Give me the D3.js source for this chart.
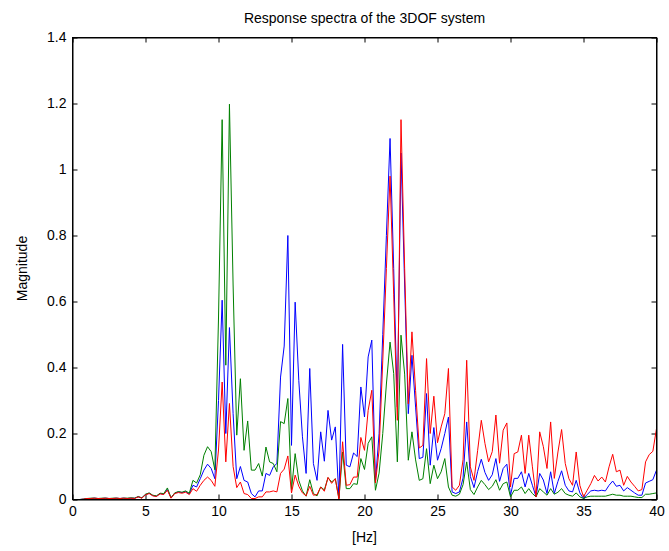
<!DOCTYPE html>
<html>
<head>
<meta charset="utf-8">
<script src="https://cdn.jsdelivr.net/npm/d3@7"></script>
<style>
  body { margin: 0; background: #fff; }
  text { font-family: "Liberation Sans", Arial, Helvetica, sans-serif; }
</style>
</head>
<body>
<div id="chart"></div>
<script>
// frequency step of the spectra (Hz), samples start at 0 Hz
const df = 0.25;

// magnitude of each degree of freedom, one value per frequency sample (0 .. 40 Hz)
const blueMag = [
  0, 0, 0, 0.001, 0.003, 0.003, 0.004, 0.003, 0.003, 0.004, 0.003, 0.003, 0.004, 0.003, 0.004, 0.003,
  0.004, 0.004, 0.008, 0.005, 0.015, 0.019, 0.012, 0.010, 0.018, 0.016, 0.030, 0.005, 0.019, 0.023, 0.021, 0.024,
  0.017, 0.043, 0.038, 0.063, 0.089, 0.107, 0.094, 0.063, 0.300, 0.604, 0.200, 0.521, 0.260, 0.063, 0.100, 0.058,
  0.053, 0.018, 0.008, 0.026, 0.026, 0.079, 0.073, 0.099, 0.109, 0.371, 0.465, 0.800, 0.164, 0.598, 0.360, 0.190,
  0.079, 0.397, 0.109, 0.058, 0.205, 0.116, 0.270, 0.180, 0.220, 0.005, 0.470, 0.104, 0.099, 0.141, 0.130, 0.341,
  0.250, 0.432, 0.483, 0.055, 0.200, 0.500, 0.800, 1.094, 0.700, 0.280, 1.050, 0.650, 0.260, 0.437, 0.280, 0.124,
  0.128, 0.321, 0.104, 0.218, 0.119, 0.154, 0.200, 0.250, 0.023, 0.018, 0.023, 0.065, 0.235, 0.070, 0.036, 0.085,
  0.122, 0.082, 0.058, 0.075, 0.124, 0.055, 0.094, 0.107, 0.013, 0.064, 0.064, 0.084, 0.038, 0.079, 0.043, 0.008,
  0.079, 0.059, 0.018, 0.084, 0.018, 0.055, 0.087, 0.043, 0.026, 0.023, 0.058, 0.020, 0.003, 0.015, 0.026, 0.028,
  0.026, 0.028, 0.026, 0.043, 0.056, 0.040, 0.043, 0.026, 0.036, 0.028, 0.020, 0.013, 0.013, 0.050, 0.055, 0.060,
  0.089
];
const greenMag = [
  0, 0, 0, 0.001, 0.003, 0.004, 0.004, 0.003, 0.004, 0.004, 0.003, 0.004, 0.004, 0.003, 0.004, 0.004,
  0.005, 0.004, 0.009, 0.005, 0.016, 0.020, 0.013, 0.011, 0.019, 0.018, 0.035, 0.005, 0.020, 0.024, 0.022, 0.026,
  0.019, 0.058, 0.050, 0.075, 0.134, 0.160, 0.145, 0.090, 0.550, 1.151, 0.407, 1.198, 0.650, 0.195, 0.366, 0.149,
  0.238, 0.089, 0.089, 0.109, 0.071, 0.159, 0.114, 0.109, 0.084, 0.236, 0.230, 0.306, 0.030, 0.139, 0.058, 0.026,
  0.010, 0.060, 0.018, 0.011, 0.038, 0.029, 0.066, 0.053, 0.063, 0.003, 0.144, 0.033, 0.033, 0.048, 0.046, 0.124,
  0.091, 0.170, 0.190, 0.028, 0.080, 0.200, 0.350, 0.477, 0.382, 0.114, 0.498, 0.380, 0.119, 0.205, 0.120, 0.058,
  0.063, 0.154, 0.048, 0.104, 0.063, 0.084, 0.124, 0.038, 0.013, 0.010, 0.016, 0.045, 0.114, 0.030, 0.015, 0.038,
  0.058, 0.045, 0.030, 0.040, 0.060, 0.028, 0.048, 0.053, 0.008, 0.028, 0.028, 0.038, 0.018, 0.033, 0.018, 0.008,
  0.033, 0.023, 0.013, 0.033, 0.016, 0.022, 0.033, 0.018, 0.013, 0.010, 0.020, 0.008, 0.003, 0.008, 0.010, 0.010,
  0.010, 0.010, 0.010, 0.013, 0.016, 0.013, 0.013, 0.010, 0.010, 0.010, 0.008, 0.006, 0.006, 0.016, 0.016, 0.018,
  0.020
];
const redMag = [
  0, 0, 0, 0.001, 0.003, 0.003, 0.004, 0.003, 0.003, 0.004, 0.003, 0.003, 0.004, 0.003, 0.004, 0.003,
  0.004, 0.003, 0.008, 0.004, 0.014, 0.018, 0.011, 0.009, 0.017, 0.015, 0.028, 0.004, 0.018, 0.021, 0.019, 0.022,
  0.015, 0.033, 0.025, 0.043, 0.058, 0.068, 0.058, 0.040, 0.150, 0.356, 0.114, 0.291, 0.100, 0.036, 0.053, 0.018,
  0.015, 0.003, 0.003, 0.008, 0.008, 0.023, 0.023, 0.026, 0.023, 0.079, 0.092, 0.132, 0.020, 0.074, 0.040, 0.020,
  0.011, 0.040, 0.013, 0.015, 0.038, 0.025, 0.067, 0.049, 0.063, 0.000, 0.175, 0.043, 0.045, 0.068, 0.068, 0.188,
  0.149, 0.270, 0.331, 0.050, 0.150, 0.420, 0.700, 0.980, 0.620, 0.240, 1.151, 0.700, 0.290, 0.508, 0.330, 0.156,
  0.164, 0.427, 0.200, 0.313, 0.172, 0.220, 0.260, 0.397, 0.038, 0.028, 0.043, 0.120, 0.422, 0.099, 0.058, 0.149,
  0.240, 0.170, 0.114, 0.145, 0.256, 0.110, 0.210, 0.232, 0.038, 0.139, 0.144, 0.195, 0.079, 0.195, 0.099, 0.008,
  0.205, 0.160, 0.094, 0.235, 0.064, 0.144, 0.212, 0.109, 0.063, 0.043, 0.144, 0.043, 0.008, 0.028, 0.048, 0.073,
  0.056, 0.068, 0.053, 0.099, 0.137, 0.084, 0.089, 0.043, 0.070, 0.053, 0.040, 0.026, 0.030, 0.114, 0.136, 0.146,
  0.215
];

const xTicks = [0, 5, 10, 15, 20, 25, 30, 35, 40];
const yTicks = [0, 0.2, 0.4, 0.6, 0.8, 1, 1.2, 1.4];

const W = 669, H = 551;
const plotLeft = 72.5, plotRight = 656.5, plotTop = 37.5, plotBottom = 499.5;

const svg = d3.select("#chart")
  .append("svg")
    .attr("width", W)
    .attr("height", H);

const x = d3.scaleLinear().domain([0, 40]).range([plotLeft, plotRight]);
const y = d3.scaleLinear().domain([0, 1.4]).range([plotBottom, plotTop]);

// axes, MATLAB style: ticks pointing inward on all four sides
const fmt = d3.format("~g");

svg.append("g")
  .attr("transform", `translate(0,${plotBottom})`)
  .call(d3.axisBottom(x).tickValues(xTicks).tickSizeInner(-5).tickSizeOuter(0).tickPadding(7).tickFormat(fmt));

svg.append("g")
  .attr("transform", `translate(0,${plotTop})`)
  .call(d3.axisTop(x).tickValues(xTicks).tickSizeInner(-5).tickSizeOuter(0).tickFormat(""));

svg.append("g")
  .attr("transform", `translate(${plotLeft},0)`)
  .call(d3.axisLeft(y).tickValues(yTicks).tickSizeInner(-5).tickSizeOuter(0).tickPadding(6).tickFormat(fmt));

svg.append("g")
  .attr("transform", `translate(${plotRight},0)`)
  .call(d3.axisRight(y).tickValues(yTicks).tickSizeInner(-5).tickSizeOuter(0).tickFormat(""));

svg.selectAll(".tick text")
  .attr("font-size", 14)
  .attr("font-family", "'Liberation Sans', Arial, sans-serif")
  .attr("fill", "#000");
svg.selectAll(".tick line").attr("stroke", "#000");
svg.selectAll(".domain").attr("stroke", "#000");

// the three spectra
const series = [
  {name: "dof1", color: "#0000ff", values: blueMag},
  {name: "dof2", color: "#008000", values: greenMag},
  {name: "dof3", color: "#ff0000", values: redMag}
];

const line = d3.line()
  .x((d, i) => x(i * df))
  .y(d => y(d));

svg.append("g")
  .selectAll("path")
  .data(series)
  .join("path")
    .attr("fill", "none")
    .attr("stroke", d => d.color)
    .attr("stroke-width", 1)
    .attr("stroke-linejoin", "miter")
    .attr("d", d => line(d.values));

// frame
svg.append("rect")
  .attr("x", plotLeft).attr("y", plotTop)
  .attr("width", plotRight - plotLeft).attr("height", plotBottom - plotTop)
  .attr("fill", "none")
  .attr("stroke", "#000");

// labels
svg.append("text")
  .attr("x", (plotLeft + plotRight) / 2)
  .attr("y", 23)
  .attr("text-anchor", "middle")
  .attr("font-size", 14)
  .text("Response spectra of the 3DOF system");

svg.append("text")
  .attr("x", (plotLeft + plotRight) / 2)
  .attr("y", 542)
  .attr("text-anchor", "middle")
  .attr("font-size", 14)
  .text("[Hz]");

svg.append("text")
  .attr("transform", `translate(27,${(plotTop + plotBottom) / 2}) rotate(-90)`)
  .attr("text-anchor", "middle")
  .attr("font-size", 14)
  .text("Magnitude");
</script>
</body>
</html>
